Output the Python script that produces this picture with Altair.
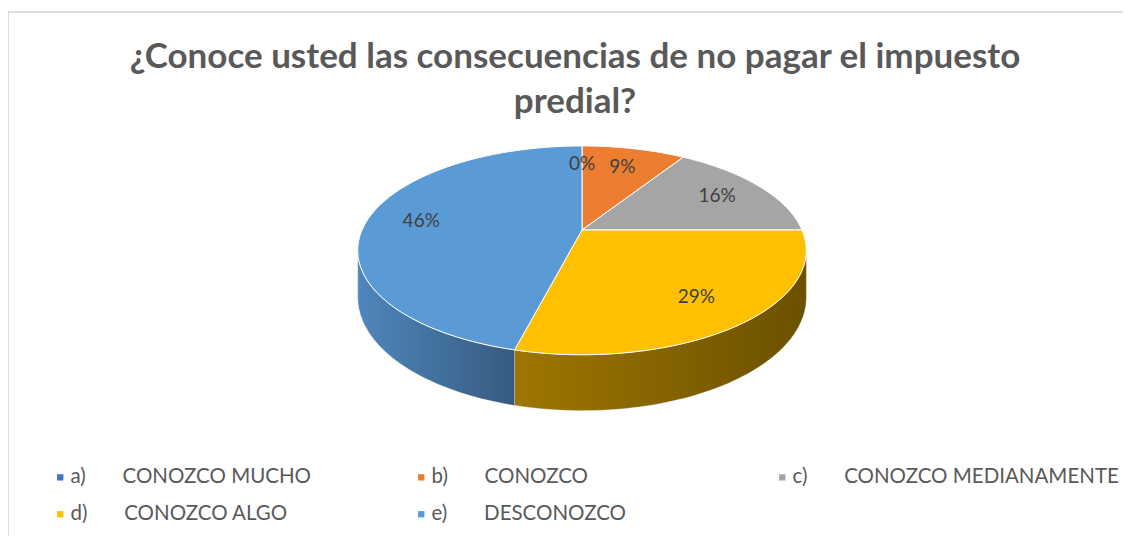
import altair as alt
import pandas as pd

# ---------------- data ----------------
title_lines = ["¿Conoce usted las consecuencias de no pagar el impuesto", "predial?"]
letters = ["a)", "b)", "c)", "d)", "e)"]
names = ["CONOZCO MUCHO", "CONOZCO", "CONOZCO MEDIANAMENTE", "CONOZCO ALGO", "DESCONOZCO"]
values = [0, 9, 16, 29, 46]
colors = ["#4472C4", "#ED7D31", "#A5A5A5", "#FFC000", "#5B9BD5"]
side_colors = ["#34589A", "#B45F25", "#7E7E7E", "#9E7600", "#4F86BC"]

NB = "\u00a0"
labels = [l + NB * 7 + n for l, n in zip(letters, names)]
df = pd.DataFrame({"cat": labels, "value": values, "ord": list(range(len(values)))})

# ---------------- geometry (layout constants) ----------------
W, H = 1115, 524            # view size
UNIT = 220.0                # px per unit radius
CX, CY = 574.0, 218.0       # apex position inside view
C, S, T = 0.195, 0.4565, 0.2045  # perspective, tilt, thickness
N = 60

xdom = [-CX / UNIT, (W - CX) / UNIT]
ydom = [-(H - CY) / UNIT, CY / UNIT]
xs = alt.Scale(domain=xdom, nice=False, zero=False)
ys = alt.Scale(domain=ydom, nice=False, zero=False)

base = alt.Chart(df).transform_joinaggregate(
    total="sum(value)"
).transform_window(
    cum="sum(value)", sort=[alt.SortField("ord", order="ascending")], frame=[None, 0]
).transform_calculate(
    s1="datum.cum / datum.total",
    s0="(datum.cum - datum.value) / datum.total",
)

# side walls
side = base.transform_calculate(
    lo=f"max(datum.s0, acos(-{C}) / (2*PI))",
    hi=f"min(datum.s1, 1 - acos(-{C}) / (2*PI))",
).transform_filter(
    "datum.hi > datum.lo"
).transform_calculate(
    idx=f"sequence(0, {2 * N + 3})"
).transform_flatten(["idx"]).transform_calculate(
    t=f"datum.idx <= {N} ? datum.idx / {N} : (datum.idx <= {2 * N + 1} ? ({2 * N + 1} - datum.idx) / {N} : 0)",
    drop=f"(datum.idx > {N} && datum.idx <= {2 * N + 1}) ? 1 : 0",
).transform_calculate(
    a="2 * PI * (datum.lo + (datum.hi - datum.lo) * datum.t)"
).transform_calculate(
    px=f"sin(datum.a) / (1 + {C} * cos(datum.a))",
    py=f"({S} * cos(datum.a) - datum.drop * {T}) / (1 + {C} * cos(datum.a))",
)

side_layer = side.mark_line(stroke="white", strokeWidth=0.6, strokeOpacity=0.7, interpolate="linear").encode(
    x=alt.X("px:Q", scale=xs, axis=None),
    y=alt.Y("py:Q", scale=ys, axis=None),
    fill=alt.Fill("cat:N", scale=alt.Scale(domain=labels, range=side_colors), legend=None),
    detail="cat:N",
    order="idx:Q",
)

shade_layer = side.mark_line(
    strokeWidth=0,
    fill=alt.Gradient(
        gradient="linear", x1=0, x2=1, y1=0, y2=0,
        stops=[alt.GradientStop(color="rgba(0,0,0,0)", offset=0),
               alt.GradientStop(color="rgba(0,0,0,0.32)", offset=1)],
    ),
    interpolate="linear",
).encode(
    x=alt.X("px:Q", scale=xs, axis=None),
    y=alt.Y("py:Q", scale=ys, axis=None),
    detail="cat:N",
    order="idx:Q",
)

# top face
top = base.transform_calculate(
    idx=f"sequence(-1, {N + 2})"
).transform_flatten(["idx"]).transform_calculate(
    a=f"2 * PI * (datum.s0 + (datum.s1 - datum.s0) * clamp(datum.idx, 0, {N}) / {N})",
    r=f"(datum.idx < 0 || datum.idx > {N}) ? 0 : 1",
).transform_calculate(
    px=f"datum.r * sin(datum.a) / (1 + {C} * datum.r * cos(datum.a))",
    py=f"{S} * datum.r * cos(datum.a) / (1 + {C} * datum.r * cos(datum.a))",
)

top_layer = top.mark_line(stroke="white", strokeWidth=1, interpolate="linear").encode(
    x=alt.X("px:Q", scale=xs, axis=None),
    y=alt.Y("py:Q", scale=ys, axis=None),
    fill=alt.Fill(
        "cat:N",
        scale=alt.Scale(domain=labels, range=colors),
        legend=alt.Legend(
            title=None, orient="none", legendX=42, legendY=455,
            columns=3, direction="horizontal", gridAlign="all",
            columnPadding=14, rowPadding=16,
            symbolType="square", symbolSize=40, symbolStrokeWidth=0,
            labelFont="Lato", labelFontSize=20.5, labelColor="#595959",
            labelLimit=0, labelOffset=0, padding=0,
        ),
    ),
    detail="cat:N",
    order="idx:Q",
)

# data labels
lab = base.transform_calculate(
    a="PI * (datum.s0 + datum.s1)",
    txt="datum.value + '%'",
).transform_calculate(
    px=f"0.75 * sin(datum.a) / (1 + {C} * 0.75 * cos(datum.a))",
    py=f"{S} * 0.75 * cos(datum.a) / (1 + {C} * 0.75 * cos(datum.a))",
)
label_layer = lab.mark_text(font="Lato", fontSize=19, color="#404040", baseline="middle").encode(
    x=alt.X("px:Q", scale=xs, axis=None),
    y=alt.Y("py:Q", scale=ys, axis=None),
    text="txt:N",
)

title_layer = alt.Chart(pd.DataFrame({"k": [0]})).mark_text(
    font="Lato", fontSize=35, fontWeight="bold", color="#595959",
    align="center", baseline="alphabetic", lineHeight=45,
).encode(
    x=alt.value(567), y=alt.value(56), text=alt.value(title_lines)
)

frame_df = pd.DataFrame({"k": [0]})
frame_top = alt.Chart(frame_df).mark_rule(color="#D9D9D9", strokeWidth=1.5).encode(
    x=alt.value(-1), x2=alt.value(W), y=alt.value(0)
)
frame_left = alt.Chart(frame_df).mark_rule(color="#D9D9D9", strokeWidth=1.5).encode(
    x=alt.value(-1), y=alt.value(0), y2=alt.value(H)
)

chart = alt.layer(
    frame_top, frame_left, side_layer, shade_layer, top_layer, label_layer, title_layer
).resolve_scale(
    fill="independent"
).properties(
    width=W, height=H,
    padding={"left": 0, "top": 4, "right": 0, "bottom": 0},
    autosize=alt.AutoSizeParams(type="none"),
).configure_view(strokeWidth=0, stroke="transparent").configure(background="white")

chart.save("out.html", embed_options={"renderer": "svg", "actions": False})
